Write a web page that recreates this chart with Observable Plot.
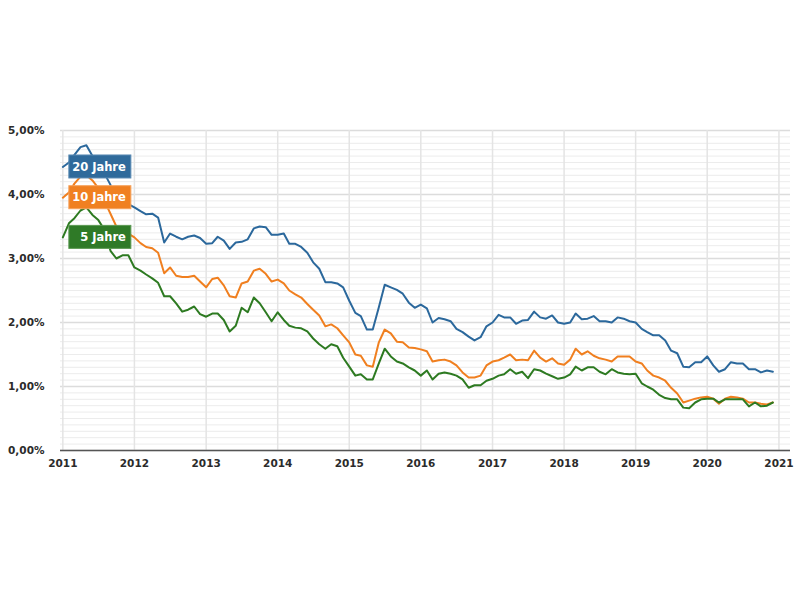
<!DOCTYPE html>
<html>
<head>
<meta charset="utf-8">
<script src="https://cdn.jsdelivr.net/npm/d3@7"></script>
<script src="https://cdn.jsdelivr.net/npm/@observablehq/plot@0.6"></script>
<style>
  html, body { margin: 0; padding: 0; background: #fff; }
  #chart svg { display: block; }
</style>
</head>
<body>
<div id="chart"></div>
<script>
// Series (monthly, Jan 2011 – Dec 2020), values in %
const seriesNames = ["20 Jahre", "10 Jahre", "5 Jahre"];
const seriesColors = ["#2b689c", "#f07f1f", "#2d7a21"];
const boxColors = ["#2f6a9b", "#f08021", "#2f7a27"];
const boxBorders = ["#5a8ab3", "#f5a25c", "#5b9a52"];

const months = d3.utcMonth.range(new Date(Date.UTC(2011, 0, 1)), new Date(Date.UTC(2021, 0, 1)));

const y20 = [
  4.43, 4.50, 4.62, 4.74, 4.77, 4.60, 4.47, 4.33, 4.15, 3.80, 3.88, 3.85,
  3.80, 3.74, 3.69, 3.70, 3.64, 3.25, 3.39, 3.34, 3.30, 3.34, 3.36, 3.32,
  3.23, 3.24, 3.34, 3.28, 3.15, 3.25, 3.26, 3.30, 3.47, 3.50, 3.49, 3.37,
  3.37, 3.39, 3.23, 3.23, 3.18, 3.09, 2.94, 2.84, 2.63, 2.63, 2.61, 2.55,
  2.34, 2.15, 2.10, 1.89, 1.89, 2.24, 2.59, 2.55, 2.51, 2.45, 2.31, 2.23,
  2.28, 2.22, 2.00, 2.07, 2.05, 2.02, 1.90, 1.85, 1.78, 1.72, 1.77, 1.94,
  2.00, 2.12, 2.08, 2.08, 1.98, 2.03, 2.04, 2.17, 2.08, 2.06, 2.11, 2.00,
  1.98, 2.00, 2.14, 2.05, 2.06, 2.10, 2.02, 2.02, 2.00, 2.08, 2.06, 2.02,
  2.00, 1.90, 1.85, 1.80, 1.80, 1.72, 1.56, 1.52, 1.31, 1.30, 1.38, 1.38,
  1.47, 1.33, 1.23, 1.27, 1.38, 1.36, 1.36, 1.27, 1.27, 1.22, 1.25, 1.23
];
const y10 = [
  3.95, 4.03, 4.17, 4.28, 4.30, 4.22, 4.10, 3.90, 3.70, 3.50, 3.43, 3.39,
  3.33, 3.24, 3.18, 3.16, 3.09, 2.77, 2.86, 2.73, 2.71, 2.71, 2.73, 2.64,
  2.55, 2.68, 2.70, 2.58, 2.41, 2.39, 2.61, 2.64, 2.81, 2.84, 2.76, 2.64,
  2.67, 2.61, 2.50, 2.44, 2.39, 2.29, 2.20, 2.11, 1.94, 1.97, 1.91, 1.80,
  1.69, 1.50, 1.48, 1.33, 1.31, 1.69, 1.89, 1.83, 1.70, 1.69, 1.61, 1.60,
  1.58, 1.55, 1.39, 1.41, 1.42, 1.39, 1.33, 1.22, 1.14, 1.14, 1.17, 1.33,
  1.39, 1.41, 1.45, 1.50, 1.41, 1.42, 1.41, 1.56, 1.45, 1.39, 1.44, 1.36,
  1.34, 1.42, 1.59, 1.50, 1.55, 1.48, 1.44, 1.42, 1.39, 1.47, 1.47, 1.47,
  1.39, 1.36, 1.25, 1.17, 1.14, 1.09, 0.98, 0.89, 0.75, 0.78, 0.81, 0.83,
  0.84, 0.81, 0.73, 0.81, 0.84, 0.83, 0.81, 0.75, 0.75, 0.73, 0.72, 0.75
];
const y5 = [
  3.33, 3.55, 3.63, 3.75, 3.80, 3.68, 3.60, 3.45, 3.12, 3.00, 3.05, 3.05,
  2.86, 2.81, 2.75, 2.69, 2.62, 2.41, 2.41, 2.30, 2.17, 2.20, 2.25, 2.13,
  2.09, 2.14, 2.14, 2.04, 1.86, 1.95, 2.23, 2.16, 2.39, 2.30, 2.16, 2.02,
  2.16, 2.04, 1.95, 1.92, 1.91, 1.86, 1.75, 1.66, 1.59, 1.66, 1.63, 1.45,
  1.31, 1.17, 1.19, 1.11, 1.11, 1.36, 1.59, 1.47, 1.39, 1.36, 1.30, 1.25,
  1.17, 1.25, 1.11, 1.20, 1.22, 1.20, 1.17, 1.11, 0.98, 1.02, 1.02, 1.09,
  1.12, 1.17, 1.19, 1.27, 1.20, 1.23, 1.13, 1.27, 1.25, 1.20, 1.16, 1.12,
  1.14, 1.19, 1.31, 1.25, 1.30, 1.30, 1.23, 1.19, 1.27, 1.22, 1.20, 1.19,
  1.20, 1.05, 1.00, 0.95, 0.87, 0.82, 0.80, 0.80, 0.67, 0.66, 0.75, 0.80,
  0.81, 0.81, 0.75, 0.80, 0.80, 0.80, 0.80, 0.69, 0.75, 0.69, 0.70, 0.75
];

// Ticks
const yTicks = [0, 1, 2, 3, 4, 5];
const yTickLabels = ["0,00%", "1,00%", "2,00%", "3,00%", "4,00%", "5,00%"];
const yMinorTicks = d3.range(0, 51).map(i => i / 10);
const xYears = [2011, 2012, 2013, 2014, 2015, 2016, 2017, 2018, 2019, 2020, 2021];
const xTickLabels = ["2011", "2012", "2013", "2014", "2015", "2016", "2017", "2018", "2019", "2020", "2021"];
const xTicks = xYears.map(y => new Date(Date.UTC(y, 0, 1)));

const allSeries = [y20, y10, y5];
const rows = [];
allSeries.forEach((vals, s) => vals.forEach((v, i) => rows.push({date: months[i], value: v, series: seriesNames[s]})));
const labelRows = allSeries.map((vals, s) => ({date: months[0], value: vals[0], series: seriesNames[s], s}));

const chart = Plot.plot({
  width: 800,
  height: 600,
  marginTop: 130,
  marginBottom: 150,
  marginLeft: 60,
  marginRight: 10,
  style: {fontFamily: "DejaVu Sans, Verdana, sans-serif", fontSize: "10.5px", fontWeight: "bold", color: "#2b2b2b", background: "#fff"},
  x: {
    type: "utc",
    domain: [new Date(Date.UTC(2010, 11, 20)), new Date(Date.UTC(2021, 2, 1))],
    ticks: xTicks,
    tickFormat: d => xTickLabels[xYears.indexOf(d.getUTCFullYear())],
    tickSize: 0,
    tickPadding: 9,
    label: null
  },
  y: {
    domain: [0, 5],
    ticks: yTicks,
    tickFormat: d => yTickLabels[yTicks.indexOf(d)],
    tickSize: 0,
    tickPadding: 16,
    label: null
  },
  color: {domain: seriesNames, range: seriesColors},
  marks: [
    Plot.ruleY(yMinorTicks, {stroke: "#ececec", strokeWidth: 1}),
    Plot.ruleY(yTicks, {stroke: "#dcdcdc", strokeWidth: 1.5}),
    Plot.ruleX(xTicks, {stroke: "#e4e4e4", strokeWidth: 1.5}),
    Plot.ruleY([0], {stroke: "#555", strokeWidth: 1.5}),
    Plot.line(rows, {x: "date", y: "value", z: "series", stroke: "series", strokeWidth: 2}),
    Plot.text(labelRows, {x: "date", y: "value", text: "series", dx: 63, textAnchor: "end", fill: "white", fontSize: 11.5, fontWeight: "bold"})
  ]
});

document.getElementById("chart").appendChild(chart);

// Label boxes behind the text labels, positioned through the plot's scales
const xs = chart.scale("x"), ys = chart.scale("y");
const svgEl = chart.tagName.toLowerCase() === "svg" ? chart : chart.querySelector("svg");
const textG = svgEl.querySelector('g[aria-label="text"]');
const boxG = d3.create("svg:g");
labelRows.forEach(r => {
  const px = xs.apply(r.date), py = ys.apply(r.value);
  boxG.append("rect")
    .attr("x", px + 6.5).attr("y", py - 11.5)
    .attr("width", 62).attr("height", 23)
    .attr("fill", boxColors[r.s])
    .attr("stroke", boxBorders[r.s])
    .attr("stroke-width", 1);
});
textG.parentNode.insertBefore(boxG.node(), textG);
</script>
</body>
</html>
